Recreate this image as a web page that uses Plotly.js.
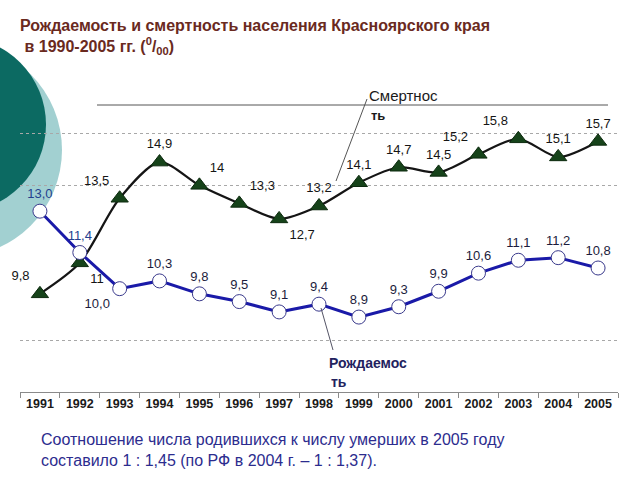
<!DOCTYPE html>
<html>
<head>
<meta charset="utf-8">
<script src="https://cdn.plot.ly/plotly-3.0.1.min.js"></script>
<style>html,body{margin:0;padding:0;background:#fff;}#chart{width:640px;height:480px;}</style>
</head>
<body>
<div id="chart"></div>
<script>
// ---- data ----
var years = ['1991','1992','1993','1994','1995','1996','1997','1998','1999','2000','2001','2002','2003','2004','2005'];
var births = [13.0, 11.4, 10.0, 10.3, 9.8, 9.5, 9.1, 9.4, 8.9, 9.3, 9.9, 10.6, 11.1, 11.2, 10.8];
var deaths = [9.8, 11, 13.5, 14.9, 14, 13.3, 12.7, 13.2, 14.1, 14.7, 14.5, 15.2, 15.8, 15.1, 15.7];
var birthLabels = ['13,0','11,4','10,0','10,3','9,8','9,5','9,1','9,4','8,9','9,3','9,9','10,6','11,1','11,2','10,8'];
var deathLabels = ['9,8','11','13,5','14,9','14','13,3','12,7','13,2','14,1','14,7','14,5','15,2','15,8','15,1','15,7'];
var gridValues = [8, 14, 16, 18];

// ---- layout geometry helpers (pixel -> paper) ----
var ML = 20, MR = 22, MT = 82, MB = 88;
var PW = 640 - ML - MR, PH = 480 - MT - MB;
function px(x){ return (x - ML) / PW; }
function py(y){ return (480 - MB - y) / PH; }

var deathPos = ['top left','bottom right','top left','top center','top right','top right','bottom right','top center','top center','top center','top center','top left','top left','top center','top center'];
var birthPos = ['top center','top center','bottom left','top center','top center','top center','top center','top center','top center','top center','top center','top center','top center','top center','top center'];
var birthColors = birthLabels.map(function(_, i){ return i < 2 ? '#24418f' : '#1c1c3c'; });

var traceDeaths = {
  type: 'scatter', mode: 'lines+markers+text',
  x: years, y: deaths, text: deathLabels, textposition: deathPos,
  textfont: {family: 'Arial, Liberation Sans, sans-serif', size: 13, color: '#151515'},
  line: {color: '#151515', width: 2.2, shape: 'spline', smoothing: 0.8},
  marker: {symbol: 'triangle-up', size: 15, color: '#16431a', line: {color: '#0c2a0e', width: 1}},
  cliponaxis: false, hoverinfo: 'skip'
};
var traceBirths = {
  type: 'scatter', mode: 'lines+markers+text',
  x: years, y: births, text: birthLabels, textposition: birthPos,
  textfont: {family: 'Arial, Liberation Sans, sans-serif', size: 13, color: birthColors},
  line: {color: '#1a1aa8', width: 3},
  marker: {symbol: 'circle', size: 14, color: '#ffffff', line: {color: '#3a3a8c', width: 1}},
  cliponaxis: false, hoverinfo: 'skip'
};

var layout = {
  width: 640, height: 480,
  margin: {l: ML, r: MR, t: MT, b: MB, pad: 0},
  paper_bgcolor: '#ffffff', plot_bgcolor: 'rgba(0,0,0,0)',
  showlegend: false,
  title: {
    text: 'Рождаемость и смертность населения Красноярского края<br> в 1990-2005 гг. (<sup>0</sup>/<sub>00</sub>)',
    x: 20/640, xanchor: 'left', y: 1 - 31/480, yanchor: 'top', xref: 'container', yref: 'container',
    font: {family: 'Liberation Sans Narrow, Arial Narrow, Arial, sans-serif', size: 16, color: '#6a2a1e', weight: 'bold'}
  },
  xaxis: {
    type: 'category', range: [-0.5, 14.5], fixedrange: true,
    showline: true, linecolor: '#8a8a8a', linewidth: 1,
    ticks: 'outside', ticklen: 5, tickcolor: '#8a8a8a', tickson: 'boundaries',
    showgrid: false, zeroline: false,
    tickfont: {family: 'Arial, Liberation Sans, sans-serif', size: 12.5, color: '#1a1a1a', weight: 'bold'}
  },
  yaxis: {
    range: [6, 18], fixedrange: true,
    tickvals: gridValues, showticklabels: false, ticks: '',
    showgrid: true, gridcolor: '#a8a8a8', griddash: 'dot', gridwidth: 1,
    zeroline: false, showline: false
  },
  shapes: [
    {type: 'circle', xref: 'paper', yref: 'paper', layer: 'below',
     x0: px(-152), x1: px(62), y0: py(257), y1: py(43), fillcolor: '#a2d0d1', line: {width: 0}},
    {type: 'circle', xref: 'paper', yref: 'paper', layer: 'below',
     x0: px(-129), x1: px(46), y0: py(212), y1: py(37), fillcolor: '#0c6a62', line: {width: 0}},
    {type: 'line', xref: 'paper', yref: 'paper', x0: px(97), x1: px(608), y0: py(105), y1: py(105),
     line: {color: '#555555', width: 1}},
    {type: 'line', xref: 'paper', yref: 'paper', x0: px(367), x1: px(336), y0: py(99), y1: py(181),
     line: {color: '#555555', width: 1}},
    {type: 'line', xref: 'paper', yref: 'paper', x0: px(321), x1: px(333), y0: py(308), y1: py(350),
     line: {color: '#555566', width: 1}}
  ],
  annotations: [
    {xref: 'paper', yref: 'paper', x: px(367), y: py(95), xanchor: 'left', yanchor: 'middle', showarrow: false,
     text: 'Смертнос', font: {family: 'Arial, Liberation Sans, sans-serif', size: 15, color: '#1a1a1a'}},
    {xref: 'paper', yref: 'paper', x: px(369), y: py(115), xanchor: 'left', yanchor: 'middle', showarrow: false,
     text: '<b>ть</b>', font: {family: 'Arial, Liberation Sans, sans-serif', size: 13, color: '#1a1a1a'}},
    {xref: 'paper', yref: 'paper', x: px(327), y: py(363), xanchor: 'left', yanchor: 'middle', showarrow: false,
     text: '<b>Рождаемос</b>', font: {family: 'Arial, Liberation Sans, sans-serif', size: 14, color: '#22225e'}},
    {xref: 'paper', yref: 'paper', x: px(329), y: py(382), xanchor: 'left', yanchor: 'middle', showarrow: false,
     text: '<b>ть</b>', font: {family: 'Arial, Liberation Sans, sans-serif', size: 14, color: '#22225e'}},
    {xref: 'paper', yref: 'paper', x: px(39), y: py(429), xanchor: 'left', yanchor: 'top', align: 'left', showarrow: false,
     text: 'Соотношение числа родившихся к числу умерших в 2005 году<br>составило 1 : 1,45 (по РФ в 2004 г. – 1 : 1,37).',
     font: {family: 'Arial, Liberation Sans, sans-serif', size: 16, color: '#2c2c8e'}}
  ]
};

Plotly.newPlot('chart', [traceDeaths, traceBirths], layout, {staticPlot: true, displayModeBar: false});
</script>
</body>
</html>
